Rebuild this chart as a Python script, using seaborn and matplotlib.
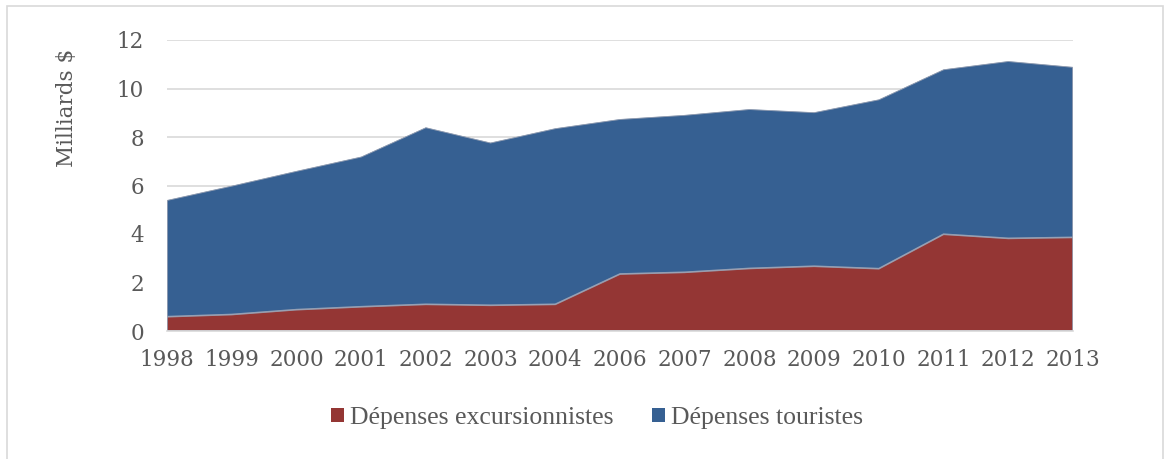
import numpy as np
import pandas as pd
import matplotlib
matplotlib.use("Agg")
import matplotlib.pyplot as plt
import matplotlib.patches as mpatches
import seaborn as sns
import seaborn.objects as so

years = ["1998", "1999", "2000", "2001", "2002", "2003", "2004", "2006",
         "2007", "2008", "2009", "2010", "2011", "2012", "2013"]
excursionnistes = [0.59, 0.68, 0.88, 1.00, 1.10, 1.06, 1.10, 2.35,
                   2.42, 2.58, 2.67, 2.57, 3.99, 3.82, 3.86]
total = [5.40, 5.99, 6.60, 7.19, 8.40, 7.77, 8.36, 8.74,
         8.91, 9.15, 9.02, 9.55, 10.79, 11.13, 10.89]
touristes = [round(t - e, 2) for t, e in zip(total, excursionnistes)]
series_names = ["Dépenses excursionnistes", "Dépenses touristes"]
colors = ["#943634", "#366092"]
yticks = [0, 2, 4, 6, 8, 10, 12]

sns.set_theme(style="white")
plt.rcParams["font.family"] = ["DejaVu Serif", "Liberation Serif"]
text_color = "#595959"

df = pd.DataFrame({
    "idx": list(range(len(years))) * 2,
    "value": excursionnistes + touristes,
    "series": [series_names[0]] * len(years) + [series_names[1]] * len(years),
})

fig = plt.figure(figsize=(11.73, 4.59), dpi=100)
ax = fig.add_axes([167 / 1173, 1 - 331 / 459, (1073 - 167) / 1173, (331 - 40) / 459])

(
    so.Plot(df, x="idx", y="value", color="series")
    .add(so.Area(alpha=1, edgewidth=0.6, edgecolor="#9aa3b5"), so.Stack())
    .scale(color=dict(zip(series_names, colors)))
    .on(ax)
    .plot()
)
fig.legends.clear()

ax.set_xlim(0, len(years) - 1)
ax.set_ylim(0, 12)
ax.set_yticks(yticks)
ax.set_yticklabels([str(v) for v in yticks])
ax.set_xticks(range(len(years)))
ax.set_xticklabels(years)
ax.yaxis.grid(True, color="#d9d9d9", linewidth=1.2)
ax.set_axisbelow(True)
ax.xaxis.grid(False)
for s in ["top", "right", "left"]:
    ax.spines[s].set_visible(False)
ax.spines["bottom"].set_color("#d9d9d9")
ax.spines["bottom"].set_linewidth(1.2)
ax.tick_params(axis="both", length=0, labelsize=15.5, colors=text_color)
ax.tick_params(axis="y", pad=16.5)
ax.tick_params(axis="x", pad=13)
ax.set_xlabel("")
ax.set_ylabel("Milliards $", fontsize=15.5, color=text_color)
ax.yaxis.set_label_coords((78 - 167) / 906, (331 - 108) / 291)
ax.set_facecolor("white")

handles = [mpatches.Patch(facecolor=c, edgecolor="none") for c in colors]
fig.legend(handles, series_names, loc="center", bbox_to_anchor=(597 / 1173, 1 - 418 / 459),
           ncol=2, frameon=False, handlelength=0.5, handleheight=0.5,
           handletextpad=0.23, columnspacing=1.5, labelcolor=text_color,
           prop={"family": "Liberation Serif", "size": 18.5})

border = mpatches.Rectangle((7 / 1173, -0.01), (1163 - 7) / 1173, 1 - 6 / 459 + 0.01,
                            transform=fig.transFigure, fill=False,
                            edgecolor="#d9d9d9", linewidth=1.2)
fig.patches.append(border)

fig.savefig("out.png", dpi=100, facecolor="white")
